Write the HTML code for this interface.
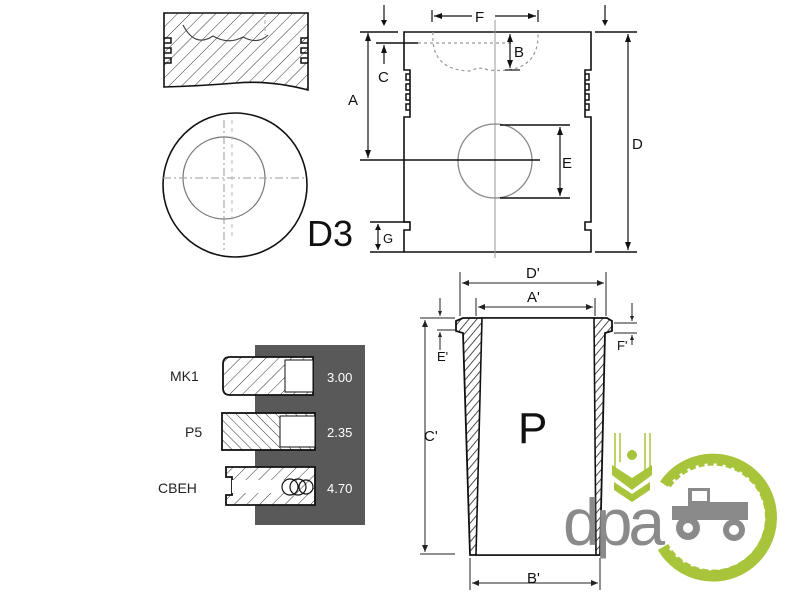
<!DOCTYPE html>
<html><head><meta charset="utf-8"><style>
html,body{margin:0;padding:0;background:#fff;}
svg{display:block;font-family:"Liberation Sans",sans-serif;}
</style></head><body>
<svg width="800" height="600" viewBox="0 0 800 600" xmlns="http://www.w3.org/2000/svg">
<defs>
<pattern id="h" width="9" height="9" patternUnits="userSpaceOnUse" patternTransform="rotate(45)">
<rect width="9" height="9" fill="#fff"/>
<line x1="0" y1="0" x2="0" y2="9" stroke="#333" stroke-width="1"/></pattern>
<pattern id="h2" width="7" height="7" patternUnits="userSpaceOnUse" patternTransform="rotate(-45)">
<rect width="7" height="7" fill="#fff"/>
<line x1="0" y1="0" x2="0" y2="7" stroke="#333" stroke-width="1"/></pattern>
<pattern id="h3" width="6" height="6" patternUnits="userSpaceOnUse" patternTransform="rotate(40)">
<rect width="6" height="6" fill="#fff"/>
<line x1="0" y1="0" x2="0" y2="6" stroke="#222" stroke-width="1.6"/></pattern>
</defs>
<g stroke="#111" fill="none" stroke-width="1.6">
<!-- top piston section -->
<path d="M164,13 H308 V90 Q270,80 236,83 Q200,86 164,87 Z" fill="url(#h)"/>
<path d="M183,25 Q195,48 213,36 Q228,45 243,37 Q258,45 268,35" stroke="#444" stroke-width="1.2"/>
<path d="M164,38 h7 v5 h-7 M164,48 h7 v5 h-7 M164,58 h7 v5 h-7 M308,38 h-7 v5 h7 M308,48 h-7 v5 h7 M308,58 h-7 v5 h7" stroke-width="1.5"/>
<line x1="265" y1="13" x2="265" y2="35" stroke="#aaa" stroke-dasharray="4,3" stroke-width="1"/>
<!-- circle view -->
<circle cx="235" cy="185" r="72"/>
<circle cx="224" cy="178" r="41" stroke="#777" stroke-width="1.2"/>
<line x1="163" y1="178" x2="308" y2="178" stroke="#999" stroke-width="1" stroke-dasharray="8,3,2,3"/>
<line x1="224" y1="120" x2="224" y2="250" stroke="#999" stroke-width="1" stroke-dasharray="8,3,2,3"/>
<line x1="232" y1="120" x2="232" y2="240" stroke="#bbb" stroke-width="1" stroke-dasharray="4,4"/>
<!-- right piston -->
<path d="M404,32 H591 V70 h-6 v47 h6 V222 h-6 v8 h6 V252 H404 V230 h6 v-8 h-6 V117 h6 V70 h-6 Z"/>
<path d="M410,74 h-4 v6 h4 M410,84 h-4 v6 h4 M410,94 h-4 v6 h4 M410,104 h-4 v6 h4 M585,74 h4 v6 h-4 M585,84 h4 v6 h-4 M585,94 h4 v6 h-4 M585,104 h4 v6 h-4" stroke-width="1.5"/>
<line x1="495" y1="20" x2="495" y2="258" stroke="#999" stroke-width="1"/>
<path d="M418,43 H512 M433,32 Q430,70 470,71 Q480,66 488,70 Q540,75 538,32" stroke="#999" stroke-width="1.2" stroke-dasharray="3,3"/>
<circle cx="495" cy="161" r="37" stroke="#888" stroke-width="1.3"/>
<line x1="360" y1="32" x2="398" y2="32"/>
<line x1="376" y1="43" x2="418" y2="43"/>
<line x1="360" y1="160" x2="540" y2="160"/>
<line x1="368" y1="33" x2="368" y2="158" stroke-width="1.2"/>
<line x1="384" y1="45" x2="384" y2="64" stroke-width="1.2"/>
<line x1="384" y1="5" x2="384" y2="24" stroke-width="1.2"/>
<line x1="605" y1="5" x2="605" y2="24" stroke-width="1.2"/>
<line x1="500" y1="125" x2="570" y2="125"/>
<line x1="500" y1="198" x2="570" y2="198"/>
<line x1="560" y1="127" x2="560" y2="196" stroke-width="1.2"/>
<line x1="595" y1="32" x2="637" y2="32"/>
<line x1="595" y1="252" x2="637" y2="252"/>
<line x1="628" y1="34" x2="628" y2="250" stroke-width="1.2"/>
<line x1="432" y1="10" x2="432" y2="22" stroke-width="1.2"/>
<line x1="538" y1="10" x2="538" y2="22" stroke-width="1.2"/>
<line x1="434" y1="16" x2="472" y2="16" stroke-width="1.2"/>
<line x1="495" y1="16" x2="536" y2="16" stroke-width="1.2"/>
<line x1="510" y1="34" x2="510" y2="68" stroke-width="1.2"/>
<line x1="505" y1="70" x2="520" y2="70" stroke-width="1.2"/>
<line x1="370" y1="222" x2="410" y2="222"/>
<line x1="370" y1="252" x2="404" y2="252"/>
<line x1="378" y1="224" x2="378" y2="250" stroke-width="1.2"/>
</g>
<g fill="#111">
<path d="M368,33 l-3,8 h6z M368,158 l-3,-8 h6z M384,45 l-3,8 h6z M384,26 l-3,-6 h6z M605,26 l-3,-6 h6z M560,127 l-3,8 h6z M560,196 l-3,-8 h6z M628,34 l-3,8 h6z M628,250 l-3,-8 h6z M434,16 l8,-3 v6z M536,16 l-8,-3 v6z M510,34 l-3,8 h6z M510,68 l-3,-8 h6z M378,224 l-3,6 h6z M378,250 l-3,-6 h6z"/>
</g>
<g fill="#111" font-size="15">
<text x="475" y="22">F</text><text x="514" y="57">B</text><text x="378" y="82">C</text>
<text x="348" y="105">A</text><text x="562" y="168">E</text><text x="632" y="149">D</text>
<text x="383" y="243" font-size="13">G</text>
<text x="307" y="246" font-size="36">D3</text>
</g>
<!-- rings -->
<rect x="255" y="345" width="110" height="180" fill="#595959"/>
<g stroke="#111" stroke-width="1.8">
<path d="M230,357 H313 V395 H230 Q223,395 223,388 V364 Q223,357 230,357Z" fill="url(#h)"/>
<path d="M285,360 V392 H313 V360Z" fill="#fff" stroke-width="1"/>
<rect x="222" y="413" width="93" height="37" fill="url(#h2)"/>
<path d="M280,416 V447 H315 V416Z" fill="#fff" stroke-width="1"/>
<path d="M226,467 H315 V505 H226 V495 h6 v-18 h-6Z" fill="url(#h)"/>
<rect x="232" y="480" width="52" height="13" fill="#fff" stroke="none"/>
<circle cx="290" cy="487" r="8" fill="#fff" stroke-width="1.2"/>
<circle cx="298" cy="487" r="8" fill="none" stroke-width="1.2"/>
<circle cx="306" cy="487" r="7" fill="none" stroke-width="1.2"/>
</g>
<g font-size="14" fill="#222">
<text x="170" y="381">MK1</text><text x="185" y="437">P5</text><text x="158" y="493">CBEH</text>
</g>
<g font-size="13" fill="#fff">
<text x="327" y="382">3.00</text><text x="327" y="437">2.35</text><text x="327" y="493">4.70</text>
</g>
<!-- liner -->
<g stroke="#111" stroke-width="1.8">
<path d="M456,321 L463,318 H607 L612,321 V331 L605,333 L600,555 H470 L463,333 L456,331Z" fill="url(#h3)"/>
<path d="M482,318 H594 L596,555 H476Z" fill="#fff" stroke-width="1.6"/>
</g>
<g stroke="#222" stroke-width="1" fill="none">
<line x1="460" y1="272" x2="460" y2="316"/><line x1="606" y1="272" x2="606" y2="316"/>
<line x1="462" y1="283" x2="604" y2="283"/>
<line x1="476" y1="298" x2="476" y2="316"/><line x1="595" y1="298" x2="595" y2="316"/>
<line x1="478" y1="307" x2="593" y2="307"/>
<line x1="420" y1="318" x2="455" y2="318"/>
<line x1="437" y1="330" x2="455" y2="330"/>
<line x1="425" y1="320" x2="425" y2="552"/>
<line x1="420" y1="554" x2="455" y2="554"/>
<line x1="440" y1="298" x2="440" y2="316"/><line x1="440" y1="332" x2="440" y2="350"/>
<line x1="614" y1="333" x2="637" y2="333"/><line x1="614" y1="323" x2="637" y2="323"/>
<line x1="632" y1="303" x2="632" y2="321"/><line x1="632" y1="335" x2="632" y2="345"/>
<line x1="470" y1="558" x2="470" y2="590"/><line x1="600" y1="558" x2="600" y2="590"/>
<line x1="472" y1="583" x2="598" y2="583"/>
</g>
<g fill="#222">
<path d="M462,283 l7,-3 v6z M604,283 l-7,-3 v6z M478,307 l7,-3 v6z M593,307 l-7,-3 v6z M425,320 l-3,7 h6z M425,552 l-3,-7 h6z M472,583 l7,-3 v6z M598,583 l-7,-3 v6z M440,316 l-2,-5 h4z M440,332 l-2,5 h4z M632,321 l-2,-5 h4z M632,335 l-2,5 h4z"/>
</g>
<g fill="#111" font-size="15">
<text x="526" y="278">D'</text><text x="527" y="302">A'</text><text x="437" y="361" font-size="13">E'</text>
<text x="617" y="350" font-size="13">F'</text><text x="424" y="441">C'</text><text x="527" y="583">B'</text>
<text x="518" y="443" font-size="44">P</text>
</g>
<!-- logo -->
<g>
<path d="M665,485 A58,58 0 1 1 663,547" fill="none" stroke="#a8c43a" stroke-width="12"/>
<path d="M668,489 A52,52 0 1 1 667,543" fill="none" stroke="#fff" stroke-width="3" stroke-dasharray="3,6"/>
<g stroke="#a8c43a" stroke-width="1.5">
<line x1="615" y1="433" x2="615" y2="470"/><line x1="620" y1="433" x2="620" y2="462"/>
<line x1="645" y1="433" x2="645" y2="470"/><line x1="650" y1="433" x2="650" y2="475"/>
</g>
<circle cx="632" cy="455" r="5" fill="#a8c43a"/>
<path d="M612,465 L632,478 L652,465 L652,475 L632,490 L612,475Z M614,482 L632,494 L650,482 L650,490 L632,502 L614,490Z" fill="#a8c43a"/>
<text x="563" y="545" font-size="66" fill="#8a8a8a" letter-spacing="-4">dpa</text>
<path d="M688,488 h22 v14 h38 v18 h-76 v-14 h16z" fill="#8a8a8a"/>
<rect x="692" y="491" width="15" height="10" fill="#fff"/>
<circle cx="688" cy="528" r="12" fill="#8a8a8a"/><circle cx="688" cy="528" r="5" fill="#fff"/>
<circle cx="734" cy="530" r="11" fill="#8a8a8a"/><circle cx="734" cy="530" r="5" fill="#fff"/>
</g>
</svg>
</body></html>
